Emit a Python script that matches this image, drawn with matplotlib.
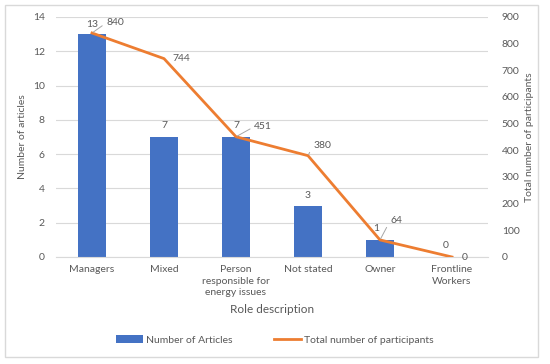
import matplotlib.pyplot as plt
from matplotlib.patches import Rectangle

plt.rcParams['font.family'] = ['Lato', 'DejaVu Sans']

roles = ["Managers", "Mixed", "Person\nresponsible for\nenergy issues", "Not stated", "Owner", "Frontline\nWorkers"]
articles = [13, 7, 7, 3, 1, 0]
participants = [840, 744, 451, 380, 64, 0]

grey = "#595959"
bar_col = "#4472C4"
line_col = "#ED7D31"

fig = plt.figure(figsize=(5.5, 3.64), dpi=100)
fig.patches.append(Rectangle((5/550, 1 - 357/364), 533/550, 352/364, transform=fig.transFigure,
                             fill=False, edgecolor="#D9D9D9", linewidth=1))
ax = fig.add_axes([56/550, 1 - 257/364, 432/550, 240/364])
ax2 = ax.twinx()

x = range(len(roles))
ax.bar(x, articles, width=0.39, color=bar_col, label="Number of Articles", zorder=2)
ax2.plot(x, participants, color=line_col, linewidth=2, label="Total number of participants", zorder=3)

ax.set_xlim(-0.5, len(roles) - 0.5)
ax.set_ylim(0, 14)
ax.set_yticks(range(0, 15, 2))
ax2.set_ylim(0, 900)
ax2.set_yticks(range(0, 901, 100))
ax.set_xticks(list(x))
ax.set_xticklabels(roles, linespacing=1.35)

ax.grid(axis="y", color="#D9D9D9", linewidth=0.8, zorder=0)
ax.set_axisbelow(True)
for a in (ax, ax2):
    for s in a.spines.values():
        s.set_visible(False)
    a.tick_params(length=0, labelsize=7.5, colors=grey)
ax.spines['bottom'].set_visible(True)
ax.spines['bottom'].set_color("#D9D9D9")
ax.tick_params(axis='x', pad=6)
ax.tick_params(axis='y', pad=8)
ax2.tick_params(axis='y', pad=10)

ax.set_ylabel("Number of articles", fontsize=7.5, color=grey, labelpad=4)
ax2.set_ylabel("Total number of participants", fontsize=7.5, color=grey, labelpad=4)
ax.set_xlabel("Role description", fontsize=8.5, color=grey, labelpad=5)

fs = 7.5
# bar labels (offsets in pixels)
bar_off = [(0, 10), (0, 11), (0, 11), (0, 10), (-4, 11), (-6, 11)]
for i, v in enumerate(articles):
    ax.annotate(str(v), (i, v), xytext=bar_off[i], textcoords="offset pixels",
                ha="center", va="center", fontsize=fs, color=grey)

# line labels: (dx, dy) offsets and whether a leader line is drawn
line_off = [(23, 10, True), (17, 0, False), (27, 10, True), (14, 10, True), (16, 19, True), (13, 0, False)]
for i, v in enumerate(participants):
    dx, dy, lead = line_off[i]
    props = dict(arrowstyle="-", color="#A6A6A6", lw=0.7, shrinkA=1, shrinkB=1,
                 relpos=(0, 0.5)) if lead else None
    ax2.annotate(str(v), (i, v), xytext=(dx, dy), textcoords="offset pixels",
                 ha="center", va="center", fontsize=fs, color=grey, arrowprops=props)

h1, l1 = ax.get_legend_handles_labels()
h2, l2 = ax2.get_legend_handles_labels()
fig.legend(h1 + h2, l1 + l2, loc="center", bbox_to_anchor=(275/550, 1 - 340/364), ncol=2,
           frameon=False, fontsize=7.5, labelcolor=grey, handlelength=2.6, columnspacing=4,
           handletextpad=0.3)

fig.savefig("out.png", dpi=100)
